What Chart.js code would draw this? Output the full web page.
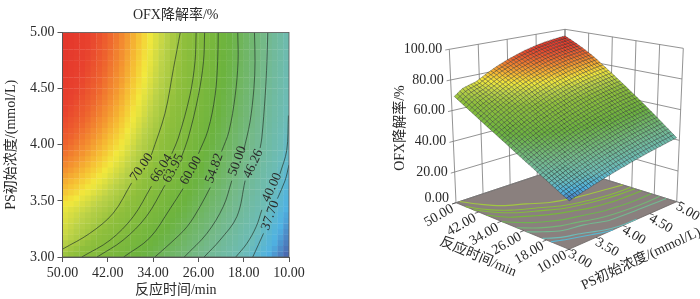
<!DOCTYPE html>
<html lang="en">

<head>
    <meta charset="UTF-8">
    <title>OFX降解率</title>
    <script src="https://cdn.jsdelivr.net/npm/chart.js"></script>
    <style>
        body { margin: 0; background: #fff; }
        canvas { position: absolute; top: 0; }
        #contourChart { left: 0; }
        #surfaceChart { left: 360px; }
    </style>
</head>

<body>
    <canvas id="contourChart" width="310" height="299"></canvas>
    <canvas id="surfaceChart" width="340" height="299"></canvas>

    <script>
        const titleText = 'OFX降解率/%';
        const timeTitle = '反应时间/min';
        const concTitle = 'PS初始浓度/(mmol/L)';

        const timeTicks = [50, 42, 34, 26, 18, 10];
        const concTicks = [3, 3.5, 4, 4.5, 5];
        const rateTicks = [0, 20, 40, 60, 80, 100];

        const timeCells = [49.5, 48.5, 47.5, 46.5, 45.5, 44.5, 43.5, 42.5, 41.5, 40.5, 39.5, 38.5, 37.5, 36.5, 35.5, 34.5, 33.5, 32.5, 31.5, 30.5, 29.5, 28.5, 27.5, 26.5, 25.5, 24.5, 23.5, 22.5, 21.5, 20.5, 19.5, 18.5, 17.5, 16.5, 15.5, 14.5, 13.5, 12.5, 11.5, 10.5];
        const concCells = [3.025, 3.075, 3.125, 3.175, 3.225, 3.275, 3.325, 3.375, 3.425, 3.475, 3.525, 3.575, 3.625, 3.675, 3.725, 3.775, 3.825, 3.875, 3.925, 3.975, 4.025, 4.075, 4.125, 4.175, 4.225, 4.275, 4.325, 4.375, 4.425, 4.475, 4.525, 4.575, 4.625, 4.675, 4.725, 4.775, 4.825, 4.875, 4.925, 4.975];

        // one row per concCells entry, one column per timeCells entry
        const rateGrid = [
            [69.5,68.6,67.6,66.7,65.8,64.8,63.9,63,62,61.1,60.2,59.2,58.3,57.4,56.5,55.5,54.6,53.7,52.7,51.8,50.9,49.9,49,48.1,47.1,46.2,45.3,44.3,43.4,42.5,41.5,40.6,39.7,38.7,37.8,36.9,35.9,35,34.1,33.2],
            [70.9,69.9,69,68,67.1,66.1,65.2,64.2,63.2,62.3,61.3,60.4,59.4,58.5,57.5,56.5,55.6,54.6,53.7,52.7,51.8,50.8,49.8,48.9,47.9,47,46,45.1,44.1,43.1,42.2,41.2,40.3,39.3,38.4,37.4,36.5,35.5,34.5,33.6],
            [72.2,71.2,70.2,69.3,68.3,67.3,66.3,65.3,64.3,63.4,62.4,61.4,60.4,59.4,58.5,57.5,56.5,55.5,54.5,53.6,52.6,51.6,50.6,49.6,48.7,47.7,46.7,45.7,44.7,43.8,42.8,41.8,40.8,39.8,38.9,37.9,36.9,35.9,34.9,34],
            [73.5,72.4,71.4,70.4,69.4,68.4,67.4,66.4,65.4,64.4,63.4,62.4,61.4,60.4,59.4,58.4,57.4,56.4,55.4,54.4,53.4,52.4,51.4,50.4,49.4,48.4,47.4,46.4,45.3,44.3,43.3,42.3,41.3,40.3,39.3,38.3,37.3,36.3,35.3,34.3],
            [74.1,73.2,72.2,71.2,70.3,69.4,68.3,67.4,66.4,65.5,64.4,63.4,62.4,61.4,60.3,59.3,58.3,57.2,56.2,55.2,54.2,53.1,52.1,51.1,50.1,49,48,47,46,44.9,43.9,42.9,41.8,40.8,39.8,38.8,37.7,36.7,35.7,34.6],
            [74.6,73.8,72.9,72,71.1,70.2,69.2,68.4,67.3,66.4,65.4,64.4,63.3,62.3,61.2,60.2,59.1,58.1,57,56,54.9,53.9,52.8,51.8,50.7,49.7,48.6,47.6,46.5,45.5,44.4,43.4,42.3,41.3,40.2,39.2,38.1,37.1,36,35],
            [75.2,74.4,73.7,72.8,71.9,71.1,70.2,69.2,68.3,67.4,66.4,65.3,64.3,63.2,62.1,61.1,60,58.9,57.8,56.8,55.7,54.6,53.6,52.5,51.4,50.4,49.3,48.2,47.1,46.1,45,43.9,42.9,41.8,40.7,39.7,38.6,37.5,36.4,35.4],
            [75.6,74.9,74.2,73.4,72.6,71.7,71,70.1,69.2,68.2,67.3,66.2,65.1,64,62.9,61.8,60.7,59.7,58.6,57.5,56.4,55.3,54.2,53.1,52,50.9,49.8,48.7,47.7,46.6,45.5,44.4,43.3,42.2,41.1,40,38.9,37.8,36.7,35.6],
            [76.2,75.6,75,74.2,73.5,72.6,71.8,71,70.1,69.2,68.3,67.2,66,64.9,63.8,62.7,61.6,60.5,59.4,58.3,57.2,56,54.9,53.8,52.7,51.6,50.5,49.4,48.3,47.2,46,44.9,43.8,42.7,41.6,40.5,39.4,38.3,37.2,36.1],
            [77.3,76.7,76,75.2,74.5,73.6,72.8,72,71,70.1,69.2,68,66.9,65.8,64.7,63.5,62.4,61.3,60.1,59,57.9,56.7,55.6,54.5,53.3,52.2,51.1,49.9,48.8,47.7,46.5,45.4,44.3,43.1,42,40.9,39.8,38.6,37.5,36.4],
            [78.3,77.6,77,76.1,75.4,74.5,73.7,72.8,71.9,70.9,70,68.8,67.7,66.5,65.4,64.2,63.1,61.9,60.8,59.6,58.5,57.3,56.2,55,53.9,52.7,51.6,50.4,49.3,48.1,47,45.8,44.7,43.5,42.4,41.2,40.1,38.9,37.8,36.6],
            [79.4,78.7,78.1,77.2,76.4,75.6,74.7,73.8,72.8,71.9,70.9,69.7,68.6,67.4,66.2,65.1,63.9,62.7,61.5,60.4,59.2,58,56.9,55.7,54.5,53.4,52.2,51,49.8,48.7,47.5,46.3,45.2,44,42.8,41.7,40.5,39.3,38.1,37],
            [80.4,79.7,79,78.1,77.3,76.5,75.6,74.7,73.7,72.7,71.7,70.5,69.3,68.2,67,65.8,64.6,63.4,62.2,61,59.8,58.6,57.5,56.3,55.1,53.9,52.7,51.5,50.3,49.1,48,46.8,45.6,44.4,43.2,42,40.8,39.6,38.5,37.3],
            [81.3,80.6,79.9,79,78.2,77.3,76.4,75.5,74.5,73.5,72.5,71.2,70,68.8,67.6,66.4,65.2,64,62.8,61.6,60.4,59.2,58,56.8,55.6,54.4,53.2,52,50.8,49.6,48.4,47.2,45.9,44.7,43.5,42.3,41.1,39.9,38.7,37.5],
            [82.3,81.6,80.9,79.9,79.1,78.2,77.3,76.4,75.3,74.3,73.3,72.1,70.8,69.6,68.4,67.2,66,64.7,63.5,62.3,61.1,59.8,58.6,57.4,56.2,55,53.7,52.5,51.3,50.1,48.8,47.6,46.4,45.2,44,42.7,41.5,40.3,39.1,37.8],
            [83.2,82.5,81.7,80.8,79.9,79,78.1,77.1,76.1,75,74,72.8,71.5,70.3,69,67.8,66.6,65.3,64.1,62.9,61.6,60.4,59.1,57.9,56.7,55.4,54.2,52.9,51.7,50.5,49.2,48,46.7,45.5,44.3,43,41.8,40.6,39.3,38.1],
            [84.1,83.3,82.6,81.6,80.8,79.8,78.9,77.9,76.9,75.8,74.8,73.5,72.2,71,69.7,68.5,67.2,66,64.7,63.5,62.2,60.9,59.7,58.4,57.2,55.9,54.7,53.4,52.2,50.9,49.7,48.4,47.1,45.9,44.6,43.4,42.1,40.9,39.6,38.4],
            [84.9,84.1,83.4,82.4,81.5,80.6,79.6,78.6,77.5,76.5,75.4,74.1,72.9,71.6,70.3,69.1,67.8,66.5,65.2,64,62.7,61.4,60.2,58.9,57.6,56.4,55.1,53.8,52.5,51.3,50,48.7,47.5,46.2,44.9,43.7,42.4,41.1,39.8,38.6],
            [85.7,84.9,84.1,83.2,82.3,81.3,80.3,79.3,78.2,77.1,76.1,74.8,73.5,72.2,70.9,69.6,68.4,67.1,65.8,64.5,63.2,61.9,60.6,59.4,58.1,56.8,55.5,54.2,52.9,51.7,50.4,49.1,47.8,46.5,45.2,44,42.7,41.4,40.1,38.8],
            [86.5,85.7,84.9,83.9,83,82,81,80,78.9,77.8,76.7,75.4,74.1,72.8,71.5,70.2,68.9,67.6,66.3,65,63.7,62.4,61.1,59.8,58.5,57.3,56,54.7,53.4,52.1,50.8,49.5,48.2,46.9,45.6,44.3,43,41.7,40.4,39.1],
            [87.2,86.4,85.6,84.6,83.7,82.6,81.6,80.6,79.5,78.4,77.3,76,74.7,73.3,72,70.7,69.4,68.1,66.8,65.5,64.2,62.8,61.5,60.2,58.9,57.6,56.3,55,53.7,52.3,51,49.7,48.4,47.1,45.8,44.5,43.2,41.9,40.6,39.2],
            [87.9,87.1,86.3,85.2,84.3,83.3,82.3,81.2,80.1,79,77.9,76.5,75.2,73.9,72.5,71.2,69.9,68.6,67.2,65.9,64.6,63.3,61.9,60.6,59.3,58,56.6,55.3,54,52.7,51.4,50,48.7,47.4,46,44.7,43.4,42.1,40.7,39.4],
            [88.6,87.8,86.9,85.9,85,83.9,82.9,81.8,80.7,79.6,78.4,77.1,75.8,74.4,73.1,71.7,70.4,69.1,67.7,66.4,65.1,63.7,62.4,61,59.7,58.4,57,55.7,54.4,53,51.7,50.3,49,47.7,46.3,45,43.7,42.3,41,39.7],
            [89.3,88.5,87.6,86.6,85.6,84.6,83.5,82.5,81.3,80.2,79,77.7,76.3,75,73.6,72.3,70.9,69.6,68.2,66.9,65.5,64.2,62.8,61.5,60.1,58.8,57.4,56.1,54.7,53.4,52,50.7,49.3,48,46.6,45.3,43.9,42.6,41.2,39.9],
            [89.9,89,88.2,87.1,86.2,85.1,84,83,81.8,80.7,79.5,78.1,76.8,75.4,74.1,72.7,71.3,70,68.6,67.3,65.9,64.5,63.2,61.8,60.5,59.1,57.7,56.4,55,53.7,52.3,50.9,49.6,48.2,46.9,45.5,44.1,42.8,41.4,40.1],
            [90.6,89.7,88.9,87.8,86.8,85.7,84.7,83.6,82.4,81.3,80.1,78.7,77.3,76,74.6,73.2,71.9,70.5,69.1,67.8,66.4,65,63.6,62.3,60.9,59.5,58.2,56.8,55.4,54,52.7,51.3,49.9,48.6,47.2,45.8,44.4,43.1,41.7,40.3],
            [91,90.1,89.2,88.2,87.2,86.1,85,83.9,82.8,81.6,80.4,79,77.6,76.2,74.9,73.5,72.1,70.7,69.3,68,66.6,65.2,63.8,62.4,61.1,59.7,58.3,56.9,55.5,54.2,52.8,51.4,50,48.6,47.2,45.9,44.5,43.1,41.7,40.3],
            [91.6,90.7,89.8,88.7,87.7,86.7,85.6,84.5,83.3,82.1,80.9,79.5,78.1,76.7,75.3,73.9,72.6,71.2,69.8,68.4,67,65.6,64.2,62.8,61.4,60,58.7,57.3,55.9,54.5,53.1,51.7,50.3,48.9,47.5,46.1,44.8,43.4,42,40.6],
            [92.1,91.2,90.3,89.2,88.2,87.1,86,84.9,83.7,82.5,81.3,79.9,78.5,77.1,75.7,74.3,72.9,71.5,70.1,68.7,67.3,65.9,64.5,63.1,61.7,60.3,58.9,57.5,56.1,54.7,53.3,51.9,50.5,49.1,47.7,46.3,44.9,43.5,42.1,40.7],
            [92.6,91.7,90.8,89.7,88.7,87.6,86.5,85.3,84.1,82.9,81.7,80.3,78.9,77.5,76.1,74.7,73.3,71.9,70.5,69.1,67.7,66.3,64.8,63.4,62,60.6,59.2,57.8,56.4,55,53.6,52.2,50.8,49.4,48,46.6,45.2,43.8,42.3,40.9],
            [93,92.1,91.2,90.1,89,87.9,86.8,85.7,84.5,83.3,82.1,80.6,79.2,77.8,76.4,75,73.6,72.1,70.7,69.3,67.9,66.5,65.1,63.7,62.2,60.8,59.4,58,56.6,55.2,53.8,52.3,50.9,49.5,48.1,46.7,45.3,43.8,42.4,41],
            [93.4,92.5,91.6,90.4,89.4,88.3,87.2,86,84.8,83.6,82.4,81,79.5,78.1,76.7,75.3,73.9,72.4,71,69.6,68.2,66.7,65.3,63.9,62.5,61.1,59.6,58.2,56.8,55.4,53.9,52.5,51.1,49.7,48.3,46.8,45.4,44,42.6,41.1],
            [93.8,92.9,91.9,90.8,89.8,88.7,87.5,86.4,85.2,83.9,82.7,81.3,79.9,78.4,77,75.6,74.1,72.7,71.3,69.8,68.4,67,65.6,64.1,62.7,61.3,59.8,58.4,57,55.6,54.1,52.7,51.3,49.8,48.4,47,45.5,44.1,42.7,41.3],
            [94.1,93.2,92.2,91.1,90.1,88.9,87.8,86.7,85.4,84.2,82.9,81.5,80.1,78.6,77.2,75.8,74.3,72.9,71.5,70,68.6,67.2,65.7,64.3,62.9,61.4,60,58.6,57.1,55.7,54.2,52.8,51.4,49.9,48.5,47.1,45.6,44.2,42.8,41.3],
            [94.4,93.5,92.5,91.4,90.3,89.2,88.1,86.9,85.7,84.4,83.2,81.8,80.3,78.9,77.4,76,74.6,73.1,71.7,70.2,68.8,67.4,65.9,64.5,63,61.6,60.2,58.7,57.3,55.8,54.4,53,51.5,50.1,48.6,47.2,45.8,44.3,42.9,41.4],
            [94.7,93.8,92.8,91.7,90.6,89.5,88.3,87.2,85.9,84.7,83.5,82,80.6,79.1,77.7,76.2,74.8,73.3,71.9,70.4,69,67.6,66.1,64.7,63.2,61.8,60.3,58.9,57.4,56,54.6,53.1,51.7,50.2,48.8,47.3,45.9,44.4,43,41.5],
            [94.9,94,93,91.9,90.8,89.7,88.5,87.4,86.1,84.8,83.6,82.2,80.7,79.3,77.8,76.4,74.9,73.5,72,70.6,69.1,67.7,66.2,64.8,63.3,61.9,60.4,59,57.5,56.1,54.6,53.2,51.7,50.3,48.8,47.4,45.9,44.5,43,41.6],
            [95.2,94.2,93.3,92.1,91.1,89.9,88.8,87.6,86.4,85.1,83.9,82.4,81,79.5,78.1,76.6,75.2,73.7,72.2,70.8,69.3,67.9,66.4,65,63.5,62.1,60.6,59.2,57.7,56.3,54.8,53.4,51.9,50.5,49,47.6,46.1,44.6,43.2,41.7],
            [95.4,94.4,93.5,92.3,91.3,90.1,89,87.8,86.6,85.3,84,82.6,81.1,79.7,78.2,76.8,75.3,73.9,72.4,70.9,69.5,68,66.6,65.1,63.7,62.2,60.8,59.3,57.9,56.4,54.9,53.5,52,50.6,49.1,47.7,46.2,44.8,43.3,41.8],
            [95.5,94.5,93.6,92.4,91.4,90.2,89.1,87.9,86.6,85.4,84.1,82.7,81.2,79.7,78.3,76.8,75.4,73.9,72.4,71,69.5,68.1,66.6,65.1,63.7,62.2,60.8,59.3,57.9,56.4,54.9,53.5,52,50.6,49.1,47.6,46.2,44.7,43.3,41.8]
        ];

        // contour lines as [time, conc], null leaves the gap for the label
        const contourLevels = [70, 66.04, 63.95, 60, 54.82, 50, 46.26, 40, 37.7];
        const contourLines = [
            [[50, 3.07], [45.2, 3.21], [41.05, 3.39], [37.8, 3.66], null, [34.3, 3.91], [31.9, 4.28], [30.4, 4.68], [29.2, 5]],
            [[46.6, 3], [41.6, 3.15], [37.5, 3.36], [34.3, 3.63], null, [30.7, 3.92], [29.55, 4.06], [27.5, 4.44], [26.6, 4.74], [26.4, 5]],
            [[43.9, 3], [39.3, 3.15], [35.2, 3.36], [31.9, 3.64], null, [29, 3.89], [27.8, 4.06], [26, 4.44], [25.1, 4.74], [24.9, 5]],
            [[39.2, 3], [34.6, 3.17], [31, 3.43], [28.7, 3.61], null, [26, 3.92], [24.3, 4.13], [23.05, 4.44], [22.6, 4.74], [22.5, 5]],
            [[33.7, 3], [31, 3.12], [28, 3.27], [25.7, 3.45], [23.9, 3.62], null, [21.9, 3.94], [20.6, 4.12], [19.5, 4.44], [19, 4.74], [19.05, 5]],
            [[28.5, 3], [24.5, 3.21], [21.6, 3.45], [20.1, 3.68], null, [18, 3.95], [16.9, 4.2], [16.2, 4.5], [16, 4.74], [16.1, 5]],
            [[25, 3], [22.2, 3.15], [19.2, 3.36], [17.75, 3.68], null, [15.1, 3.97], [14.8, 4.06], [14.2, 4.44], [13.9, 4.74], [13.75, 5]],
            [[19.4, 3], [17.45, 3.12], [15.8, 3.27], [14.8, 3.42], null, [11.6, 3.74], [10.4, 3.95], [10.1, 4.26]],
            [[16.4, 3], [15.4, 3.11], [14.5, 3.21], null, [12.05, 3.52], [10.7, 3.68], [10, 3.82]]
        ];
        const contourLabelText = ['70.00', '66.04', '63.95', '60.00', '54.82', '50.00', '46.26', '40.00', '37.70'];
        const contourLabelTime = [36, 32.5, 30.4, 27.3, 23.2, 19.1, 16.3, 13, 13.3];
        const contourLabelConc = [3.8, 3.79, 3.79, 3.77, 3.79, 3.855, 3.83, 3.62, 3.37];
        const contourLabelAngle = [-55, -58, -62, -60, -70, -70, -65, -65, -70];

        const fontFamily = '"Liberation Serif", "Noto Sans CJK SC", serif';
        const textColor = '#2a2a2a';
        const axisColor = '#555';

        // colour scale, [rate, r, g, b]
        const rateStops = [
            [33, 74, 102, 174], [36, 79, 178, 226], [40, 108, 188, 184], [47, 116, 185, 140],
            [57, 108, 179, 62], [68, 143, 191, 60], [73, 188, 210, 72], [77, 242, 232, 60],
            [80, 246, 192, 52], [83, 244, 150, 48], [87, 238, 100, 46], [91, 232, 66, 46], [95, 228, 56, 44]
        ];

        function rateColor(v) {
            if (v <= rateStops[0][0]) return `rgb(${rateStops[0].slice(1).join(',')})`;
            for (let k = 1; k < rateStops.length; k++) {
                if (v <= rateStops[k][0]) {
                    const a = rateStops[k - 1], b = rateStops[k];
                    const f = (v - a[0]) / (b[0] - a[0]);
                    return `rgb(${[1, 2, 3].map(n => Math.round(a[n] + (b[n] - a[n]) * f)).join(',')})`;
                }
            }
            return `rgb(${rateStops[rateStops.length - 1].slice(1).join(',')})`;
        }

        // ---------- left: heat map with contours ----------
        const cellPoints = [];
        const cellColors = [];
        concCells.forEach((c, j) => {
            timeCells.forEach((t, i) => {
                cellPoints.push({ x: t, y: c });
                cellColors.push(rateColor(rateGrid[j][i]));
            });
        });

        const contourDatasets = contourLines.map(line => ({
            type: 'scatter',
            showLine: true,
            data: line.map(p => p ? { x: p[0], y: p[1] } : { x: null, y: null }),
            borderColor: 'rgba(35,50,40,0.85)',
            borderWidth: 0.8,
            tension: 0.35,
            pointRadius: 0,
            fill: false
        }));

        const contourLabelPlugin = {
            id: 'contourLabels',
            afterDatasetsDraw(chart) {
                const { ctx, scales, chartArea } = chart;
                ctx.save();
                ctx.strokeStyle = axisColor;
                ctx.lineWidth = 0.8;
                ctx.strokeRect(chartArea.left, chartArea.top, chartArea.right - chartArea.left, chartArea.bottom - chartArea.top);
                ctx.font = '13.5px ' + fontFamily;
                ctx.fillStyle = textColor;
                ctx.textAlign = 'center';
                ctx.textBaseline = 'middle';
                contourLabelText.forEach((txt, k) => {
                    ctx.save();
                    ctx.translate(scales.x.getPixelForValue(contourLabelTime[k]), scales.y.getPixelForValue(contourLabelConc[k]));
                    ctx.rotate(contourLabelAngle[k] * Math.PI / 180);
                    ctx.fillText(txt, 0, 0);
                    ctx.restore();
                });
                ctx.restore();
            }
        };

        new Chart(document.getElementById('contourChart'), {
            type: 'scatter',
            data: {
                datasets: [
                    ...contourDatasets,
                    {
                        data: cellPoints,
                        pointStyle: 'rect',
                        pointRadius: 4.25,
                        pointBorderWidth: 0,
                        pointBackgroundColor: cellColors,
                        pointHoverRadius: 4.25
                    }
                ]
            },
            options: {
                responsive: false,
                animation: false,
                layout: { padding: { right: 21 } },
                plugins: {
                    legend: { display: false },
                    tooltip: { enabled: false },
                    title: {
                        display: true,
                        text: titleText,
                        fullSize: false,
                        color: textColor,
                        font: { family: fontFamily, size: 14, weight: 'normal' },
                        padding: { top: 7, bottom: 8.7 }
                    }
                },
                scales: {
                    x: {
                        type: 'linear',
                        reverse: true,
                        min: 10,
                        max: 50,
                        afterFit(scale) { scale.height = 42; },
                        ticks: {
                            stepSize: 8,
                            autoSkip: false,
                            maxRotation: 0,
                            padding: 3,
                            color: textColor,
                            font: { family: fontFamily, size: 14 },
                            callback: v => v.toFixed(2)
                        },
                        grid: { drawOnChartArea: false, tickLength: 5, color: axisColor },
                        border: { color: axisColor },
                        title: {
                            display: true,
                            text: timeTitle,
                            color: textColor,
                            padding: { top: 0, bottom: 0 },
                            font: { family: fontFamily, size: 14 }
                        }
                    },
                    y: {
                        type: 'linear',
                        min: 3,
                        max: 5,
                        afterFit(scale) { scale.width = 62.5; },
                        ticks: {
                            stepSize: 0.5,
                            padding: 3,
                            color: textColor,
                            font: { family: fontFamily, size: 14 },
                            callback: v => v.toFixed(2)
                        },
                        grid: { drawOnChartArea: false, tickLength: 5, color: axisColor },
                        border: { color: axisColor },
                        title: {
                            display: true,
                            text: concTitle,
                            color: textColor,
                            padding: { top: 3, bottom: 0 },
                            font: { family: fontFamily, size: 14 }
                        }
                    }
                }
            },
            plugins: [contourLabelPlugin]
        });

        // ---------- right: response surface ----------
        // box corners on the page, floor then top: (time, conc) = L(50,3) F(10,3) B(50,5) R(10,5)
        const boxFloor = { L: [456, 202.7], F: [569, 249.3], B: [564.3, 166.7], R: [676.7, 201.7] };
        const boxTop = { L: [449.3, 49.3], F: [570, 107], B: [565, 29.3], R: [683.3, 48.3] };

        function project(t, c, z) {
            const u = (50 - t) / 40, v = (c - 3) / 2, w = z / 100;
            const mix = (box, n) => box.L[n] * (1 - u) * (1 - v) + box.F[n] * u * (1 - v) + box.B[n] * (1 - u) * v + box.R[n] * u * v;
            return {
                x: mix(boxFloor, 0) * (1 - w) + mix(boxTop, 0) * w,
                y: mix(boxFloor, 1) * (1 - w) + mix(boxTop, 1) * w
            };
        }

        function lineSet(points, color, width, extra) {
            return Object.assign({ data: points, borderColor: color, borderWidth: width, pointRadius: 0, tension: 0, fill: false }, extra);
        }

        const paintOrder = [];

        // floor
        paintOrder.push(lineSet(
            [project(50, 3, 0), project(10, 3, 0), project(10, 5, 0), project(50, 5, 0), project(50, 3, 0)],
            '#6b6463', 0.8, { fill: 'shape', backgroundColor: '#8a807e' }
        ));

        // walls
        const wallColor = '#777';
        rateTicks.forEach(z => {
            paintOrder.push(lineSet([project(50, 3, z), project(50, 5, z), project(10, 5, z)], wallColor, 0.8));
            paintOrder.push(lineSet([project(50, 3, z), project(50, 2.93, z)], wallColor, 0.8));
        });
        concTicks.forEach(c => {
            paintOrder.push(lineSet([project(50, c, 0), project(50, c, 100)], wallColor, 0.8));
            paintOrder.push(lineSet([project(10, c, 0), project(8.6, c, 0)], '#444', 0.8));
        });
        timeTicks.forEach(t => {
            paintOrder.push(lineSet([project(t, 5, 0), project(t, 5, 100)], wallColor, 0.8));
            paintOrder.push(lineSet([project(t, 3, 0), project(t, 2.93, 0)], '#444', 0.8));
        });

        // contours on the floor
        contourLines.forEach((line, k) => {
            paintOrder.push(lineSet(
                line.filter(p => p).map(p => project(p[0], p[1], 0)),
                rateColor(contourLevels[k]), 1.1, { tension: 0.35 }
            ));
        });

        // surface, back corner first
        for (let j = concCells.length - 2; j >= 0; j--) {
            for (let i = 0; i < timeCells.length - 1; i++) {
                const a = project(timeCells[i], concCells[j], rateGrid[j][i]);
                const b = project(timeCells[i + 1], concCells[j], rateGrid[j][i + 1]);
                const c = project(timeCells[i + 1], concCells[j + 1], rateGrid[j + 1][i + 1]);
                const d = project(timeCells[i], concCells[j + 1], rateGrid[j + 1][i]);
                const mean = (rateGrid[j][i] + rateGrid[j][i + 1] + rateGrid[j + 1][i + 1] + rateGrid[j + 1][i]) / 4;
                paintOrder.push(lineSet([a, b, c, d, a], 'rgba(25,30,30,0.6)', 0.55, { fill: 'shape', backgroundColor: rateColor(mean) }));
            }
        }

        const surfaceTextPlugin = {
            id: 'surfaceText',
            afterDatasetsDraw(chart) {
                const { ctx, scales } = chart;
                const put = (txt, pageX, pageY, angle, align) => {
                    ctx.save();
                    ctx.translate(scales.x.getPixelForValue(pageX), scales.y.getPixelForValue(pageY));
                    ctx.rotate(angle * Math.PI / 180);
                    ctx.textAlign = align || 'center';
                    ctx.fillText(txt, 0, 0);
                    ctx.restore();
                };
                ctx.save();
                ctx.font = '14px ' + fontFamily;
                ctx.fillStyle = textColor;
                ctx.textBaseline = 'middle';
                rateTicks.forEach(z => {
                    const p = project(50, 3, z);
                    put(z.toFixed(2), p.x - 7, z === 0 ? p.y - 4 : p.y, 0, 'right');
                });
                timeTicks.forEach(t => {
                    const p = project(t, 3, 0);
                    put(t.toFixed(2), p.x - 17, p.y + 13, -30);
                });
                concTicks.forEach(c => {
                    const p = project(10, c, 0);
                    put(c.toFixed(2), p.x + 11, p.y + 10, 30);
                });
                put(titleText, 400, 128, -90);
                put(timeTitle, 478, 257, 23);
                put(concTitle, 641, 259, -25);
                ctx.restore();
            }
        };

        // x and y run in page pixels so the projected box lands where it should
        new Chart(document.getElementById('surfaceChart'), {
            type: 'line',
            data: { datasets: paintOrder.reverse() },
            options: {
                responsive: false,
                animation: false,
                events: [],
                layout: { padding: 0 },
                plugins: { legend: { display: false }, tooltip: { enabled: false } },
                scales: {
                    x: { type: 'linear', display: false, min: 360, max: 700 },
                    y: { type: 'linear', display: false, reverse: true, min: 0, max: 299 }
                }
            },
            plugins: [surfaceTextPlugin]
        });
    </script>
</body>

</html>
